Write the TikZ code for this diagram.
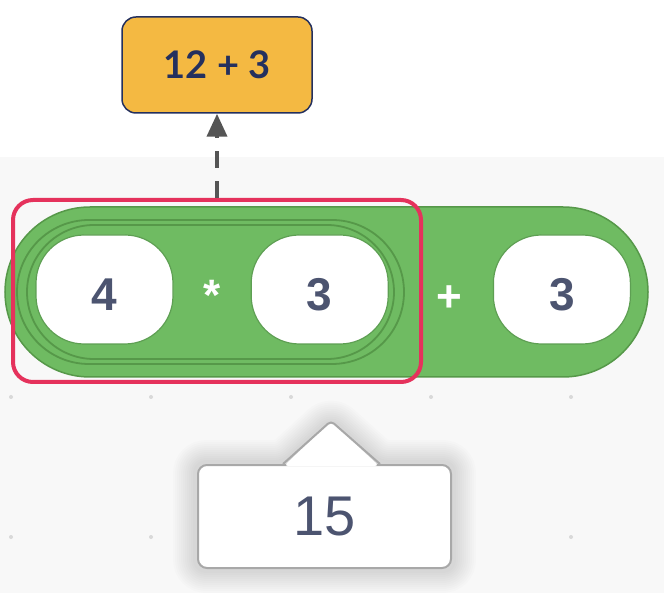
\documentclass[tikz,border=0pt]{standalone}
\usepackage{fontspec}
\setmainfont{Liberation Sans}
\newfontfamily\exprfont{Lato}
\usepackage{xcolor}
\usepackage{tikz}
\usetikzlibrary{arrows.meta, positioning, calc, backgrounds}
\definecolor{blockgreen}{HTML}{6FBB62}
\definecolor{blockedge}{HTML}{569849}
\definecolor{slotedge}{HTML}{5E9F53}
\definecolor{slottext}{HTML}{4C5470}
\definecolor{focusred}{HTML}{E5325C}
\definecolor{exprfill}{HTML}{F4B942}
\definecolor{exprnavy}{HTML}{24305E}
\definecolor{canvasgrey}{HTML}{F8F8F8}
\definecolor{griddot}{HTML}{D9D9D9}
\definecolor{tipgrey}{HTML}{A8A8A8}
\definecolor{arrowgrey}{HTML}{555555}
\tikzset{
  outerpill/.style={rectangle, draw=blockedge, fill=blockgreen, line width=1.5pt, minimum width=643pt, minimum height=170pt, rounded corners=85pt},
  innerpill/.style={rectangle, draw=blockedge, fill=blockgreen, line width=1.8pt, minimum width=387pt, minimum height=144pt, rounded corners=72pt},
  innerrim/.style={rectangle, draw=blockedge, line width=1.8pt, minimum width=367pt, minimum height=134pt, rounded corners=67pt},
  numslot/.style={rectangle, draw=slotedge, fill=white, line width=1.2pt, minimum width=137pt, minimum height=109pt, rounded corners=48pt, inner sep=0pt, text=slottext, font=\fontsize{46}{46}\selectfont\bfseries, text height=42pt, text depth=0pt},
  opsign/.style={inner sep=0pt, text=white, font=\fontsize{44}{44}\selectfont\bfseries, text height=42pt, text depth=0pt},
  focusbox/.style={rectangle, draw=focusred, line width=4pt, minimum width=408pt, minimum height=182pt, rounded corners=20pt},
  exprbox/.style={rectangle, draw=exprnavy, fill=exprfill, line width=1.5pt, minimum width=190pt, minimum height=96pt, rounded corners=14pt, text=exprnavy, font=\exprfont\bfseries\fontsize{38}{38}\selectfont},
  resultbox/.style={rectangle, draw=tipgrey, fill=white, line width=2pt, minimum width=253pt, minimum height=103pt, rounded corners=9pt, text=slottext, font=\fontsize{56}{56}\selectfont},
  tipedge/.style={draw=tipgrey, line width=2pt, rounded corners=4pt},
  arr/.style={-{Triangle[length=23pt, width=20pt]}, draw=arrowgrey, line width=4pt, dash pattern=on 17pt off 13pt},
}
\begin{document}
\begin{tikzpicture}[x=1pt, y=-1pt]
  \useasboundingbox (0,0) rectangle (664,593);
  % canvas
  \begin{scope}[on background layer]
    \fill[white] (0,0) rectangle (664,157);
    \fill[canvasgrey] (0,157) rectangle (664,593);
    \foreach \gx in {11,151,...,571}
      \foreach \gy in {397,537}
        \fill[griddot] (\gx,\gy) circle (2pt);
  \end{scope}

  % Blocks
  \node[outerpill] (sum) at (326.5,292) {};
  \node[innerpill] (prod) at (210.5,292) {};
  \node[innerrim] (prodrim) at (prod.center) {};
  \node[numslot] (numa) at (104.5,289.5) {4};
  \node[numslot, right=77pt of numa] (numb) {3};
  \node[numslot, right=104pt of numb] (numc) {3};
  \node[opsign] (times) at ($(numa)!0.5!(numb)$) {*};
  \node[opsign] (plus) at ($(prod.east)!0.5!(numc.west)$) {+};

  % Selection and its expression
  \node[focusbox] (focus) at (217,291) {};
  \node[exprbox] (expr) at (217,65) {12 + 3};
  \draw[arr] (focus.north) -- (expr.south);

  % Result bubble
  \node[resultbox] (result) at (324.5,516.5) {15};
  \coordinate (tipl) at ($(result.north)+(-40.5,0)$);
  \coordinate (tipa) at ($(result.north)+(6.5,-43)$);
  \coordinate (tipr) at ($(result.north)+(54.5,0)$);
  \begin{scope}[on background layer]
    \foreach \sw in {2,...,12}
      \draw[black, opacity=0.013, line width=4*\sw, line join=round, rounded corners=9pt, yshift=-3pt]
        (result.south west) -- (result.north west) -- (tipl) -- (tipa) -- (tipr) -- (result.north east) -- (result.south east) -- cycle;
  \end{scope}
  \path[fill=white, rounded corners=4pt] ($(tipl)+(0,2)$) -- (tipa) -- ($(tipr)+(0,2)$) -- cycle;
  \draw[tipedge] ($(tipl)+(-1,0)$) -- (tipa) -- ($(tipr)+(1,0)$);
\end{tikzpicture}
\end{document}
